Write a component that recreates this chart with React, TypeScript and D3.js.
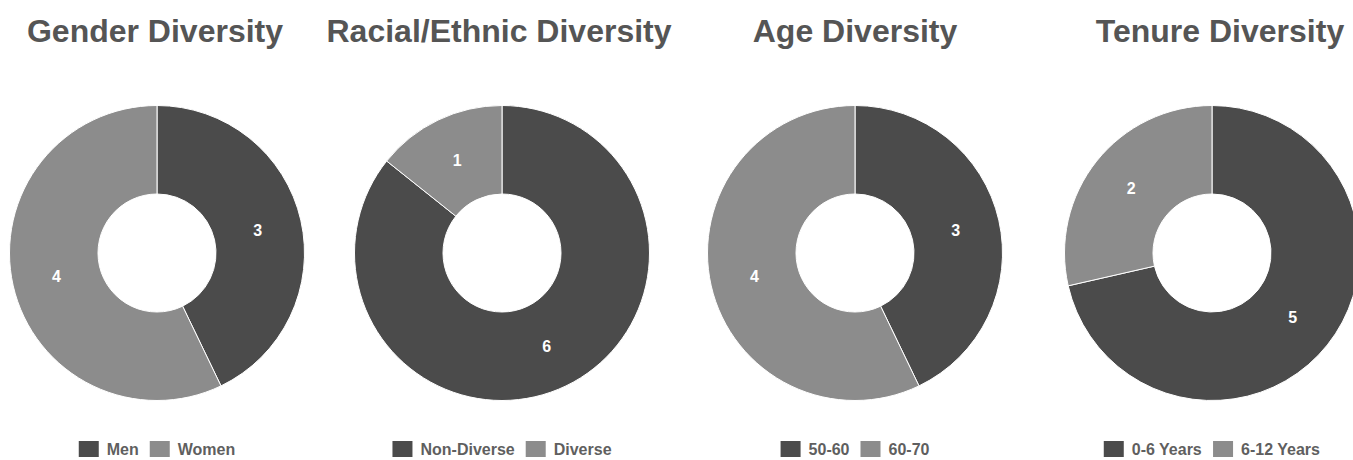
import React from "react";
import * as d3 from "d3";

// ---- Data ----
const chartTitles = ["Gender Diversity", "Racial/Ethnic Diversity", "Age Diversity", "Tenure Diversity"];
const genderLabels = ["Men", "Women"];
const genderValues = [3, 4];
const raceLabels = ["Non-Diverse", "Diverse"];
const raceValues = [6, 1];
const ageLabels = ["50-60", "60-70"];
const ageValues = [3, 4];
const tenureLabels = ["0-6 Years", "6-12 Years"];
const tenureValues = [5, 2];

const seriesLabels = [genderLabels, raceLabels, ageLabels, tenureLabels];
const seriesValues = [genderValues, raceValues, ageValues, tenureValues];

// ---- Layout / style ----
const W = 1353;
const H = 460;
const centersX = [157, 502, 855, 1212];
const titleX = [155, 499, 855, 1220];
const centerY = 253;
const outerR = 147.5;
const innerR = 59;
const colors = ["#4b4b4b", "#8c8c8c"];
const textColor = "#555555";
const FONT = "'Liberation Sans', Arial, Helvetica, sans-serif";

function measure(text: string, size: number): number {
  if (typeof document === "undefined") return text.length * size * 0.6;
  const c = (measure as any)._c || ((measure as any)._c = document.createElement("canvas"));
  const ctx = c.getContext("2d");
  ctx.font = `bold ${size}px ${FONT}`;
  return ctx.measureText(text).width;
}

function Donut({ idx }: { idx: number }) {
  const values = seriesValues[idx];
  const labels = seriesLabels[idx];
  const cx = centersX[idx];
  const pie = d3.pie<number>().sort(null).value((d) => d);
  const arcs = pie(values);
  const arc = d3.arc<d3.PieArcDatum<number>>().innerRadius(innerR).outerRadius(outerR);

  // legend layout
  const legendFont = 16;
  const box = 20;
  const gapBoxText = 8;
  const gapItems = 11;
  const widths = labels.map((l) => box + gapBoxText + measure(l, legendFont));
  const total = widths.reduce((a, b) => a + b, 0) + gapItems * (labels.length - 1);
  let lx = cx - total / 2;
  const legendItems = labels.map((l, i) => {
    const x = lx;
    lx += widths[i] + gapItems;
    return { l, x, i };
  });

  return (
    <g>
      <text
        x={titleX[idx]}
        y={42}
        textAnchor="middle"
        fontFamily={FONT}
        fontWeight="bold"
        fontSize={32}
        fill={textColor}
      >
        {chartTitles[idx]}
      </text>
      <g transform={`translate(${cx},${centerY})`}>
        {arcs.map((a, i) => (
          <path key={i} d={arc(a) || ""} fill={colors[i]} stroke="#ffffff" strokeWidth={1} />
        ))}
        {arcs.map((a, i) => {
          const [x, y] = arc.centroid(a);
          return (
            <text
              key={"l" + i}
              x={x}
              y={y}
              dy="0.35em"
              textAnchor="middle"
              fontFamily={FONT}
              fontWeight="bold"
              fontSize={16}
              fill="#ffffff"
            >
              {values[i]}
            </text>
          );
        })}
      </g>
      <g>
        {legendItems.map(({ l, x, i }) => (
          <g key={"lg" + i}>
            <rect x={x} y={441} width={box} height={16} fill={colors[i]} />
            <text
              x={x + box + gapBoxText}
              y={455}
              fontFamily={FONT}
              fontWeight="bold"
              fontSize={legendFont}
              fill="#5f5f5f"
            >
              {l}
            </text>
          </g>
        ))}
      </g>
    </g>
  );
}

export default function App() {
  if (typeof document !== "undefined") {
    document.body.style.margin = "0";
    document.body.style.overflow = "hidden";
  }
  return (
    <svg
      width={W}
      height={H}
      style={{ position: "absolute", left: 0, top: 0, background: "#ffffff", display: "block" }}
    >
      <rect width={W} height={H} fill="#ffffff" />
      {chartTitles.map((_, i) => (
        <Donut key={i} idx={i} />
      ))}
    </svg>
  );
}
